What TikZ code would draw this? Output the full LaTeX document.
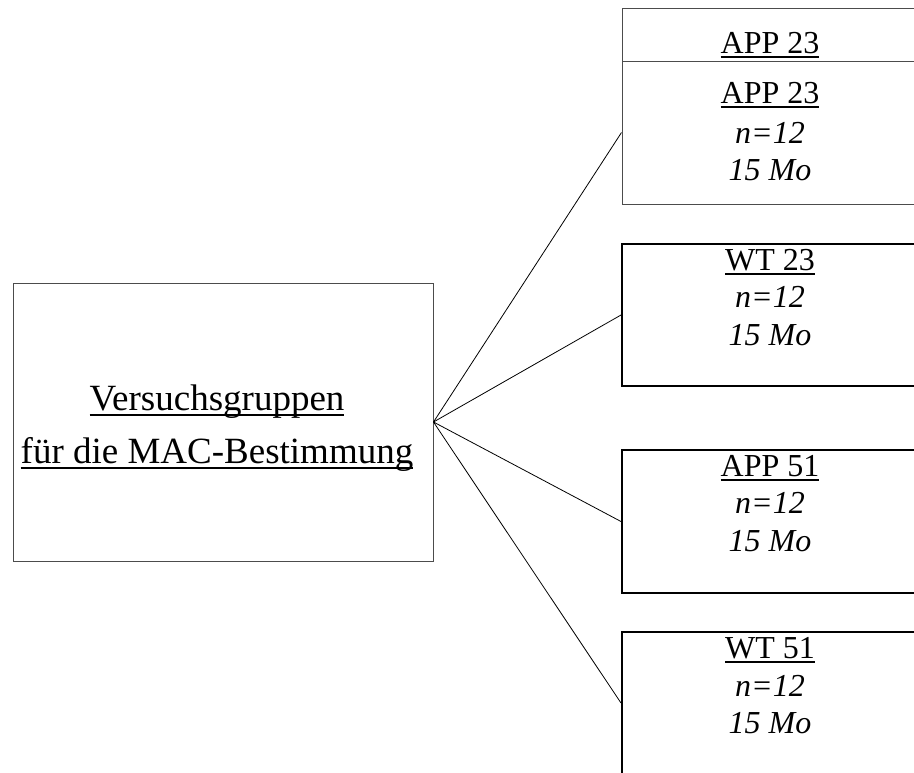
\documentclass[tikz,border=0pt]{standalone}
\usepackage{fontspec}
\setmainfont{Liberation Serif}
\newcommand\myul[1]{\setbox0\hbox{#1}\rlap{\copy0}\rule[-0.16em]{\wd0}{0.06em}}
\begin{document}
\begin{tikzpicture}[x=1pt,y=-1pt,
  thinbox/.style={draw=black!70,line width=1pt,inner sep=0pt},
  thickbox/.style={draw=black,line width=2pt,inner sep=0pt},
  rtext/.style={anchor=base,inner sep=0pt,font=\fontsize{32}{38}\selectfont},
  ltext/.style={anchor=base,inner sep=0pt,font=\fontsize{37}{44}\selectfont},
  conn/.style={draw=black,line width=0.8pt}]
\useasboundingbox (0,0) rectangle (914,772);
\clip (0,0) rectangle (914,772);
% boxes
\node[thinbox,minimum width=420pt,minimum height=278pt] (main) at (223,422) {};
\node[thinbox,minimum width=296pt,minimum height=53pt] (app23a) at (770,34.5) {};
\node[thinbox,minimum width=296pt,minimum height=143pt] (app23b) at (770,132.5) {};
\node[thickbox,minimum width=296pt,minimum height=142pt] (wt23) at (770,315) {};
\node[thickbox,minimum width=296pt,minimum height=143pt] (app51) at (770,521.5) {};
\node[thickbox,minimum width=296pt,minimum height=142pt] (wt51) at (770,703) {};
% left text
\node[ltext] (l1) at (217,410) {\myul{Versuchsgruppen}};
\node[ltext] (l2) at (217,463) {\myul{für die MAC-Bestimmung}};
% top box text
\node[rtext] (a0) at (770,53) {\myul{APP 23}};
\node[rtext] (a1) at (770,103) {\myul{APP 23}};
\node[rtext] (a2) at (770,143) {\itshape n=12};
\node[rtext] (a3) at (770,180) {\itshape 15 Mo};
% WT 23
\node[rtext] (b1) at (770,270) {\myul{WT 23}};
\node[rtext] (b2) at (770,307) {\itshape n=12};
\node[rtext] (b3) at (770,345) {\itshape 15 Mo};
% APP 51
\node[rtext] (c1) at (770,476) {\myul{APP 51}};
\node[rtext] (c2) at (770,513) {\itshape n=12};
\node[rtext] (c3) at (770,551) {\itshape 15 Mo};
% WT 51
\node[rtext] (d1) at (770,658) {\myul{WT 51}};
\node[rtext] (d2) at (770,696) {\itshape n=12};
\node[rtext] (d3) at (770,733) {\itshape 15 Mo};
% connectors
\draw[conn] (main.east) -- (app23b.west);
\draw[conn] (main.east) -- (wt23.west);
\draw[conn] (main.east) -- (app51.west);
\draw[conn] (main.east) -- (wt51.west);
\end{tikzpicture}
\end{document}
